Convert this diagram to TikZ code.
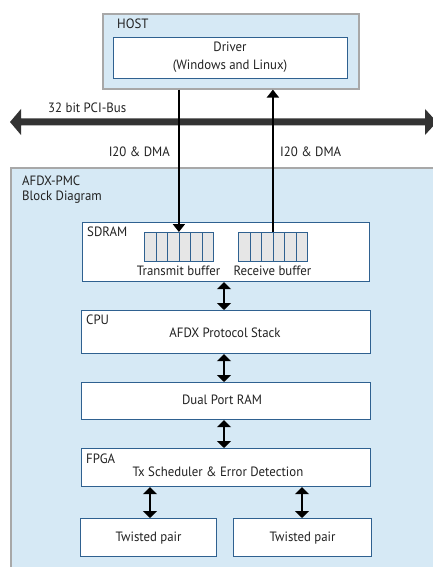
\documentclass[tikz,border=0pt]{standalone}
\usepackage{fontspec}
\setmainfont[FakeStretch=0.95]{PT Sans}
\usetikzlibrary{arrows.meta}
\definecolor{bgblue}{HTML}{D6E9F5}
\definecolor{edgeblue}{HTML}{2F6190}
\definecolor{edgegray}{HTML}{A8A8A8}
\definecolor{cellgray}{HTML}{E6E6E6}
\definecolor{busgray}{HTML}{333333}
\definecolor{txt}{HTML}{222222}
\begin{document}
\begin{tikzpicture}[x=1pt,y=-1pt,
  font=\fontsize{13.5}{15}\selectfont,
  panel/.style={draw=edgegray, line width=1.6pt, fill=bgblue, anchor=north west, inner sep=0},
  blk/.style={draw=edgeblue, line width=1.2pt, fill=white, anchor=north west, inner sep=0},
  cell/.style={draw=edgeblue, line width=0.8pt, fill=cellgray, anchor=north west, inner sep=0, minimum width=11.5pt, minimum height=29pt},
  lbl/.style={anchor=west, inner sep=0, text=txt},
  ctr/.style={inner sep=0, text=txt, align=center},
  link/.style={line width=2.8pt, draw=black},
  tip/.style={-{Triangle[width=12pt,length=8pt]}},
  dbl/.style={link, {Triangle[width=14pt,length=7pt]}-{Triangle[width=14pt,length=7pt]}},
]
\useasboundingbox (0,0) rectangle (432,567);
\fill[white] (0,0) rectangle (432,567);

% panels
\node[panel, minimum width=256pt, minimum height=75pt] (host) at (102,13) {};
\node[panel, minimum width=440pt, minimum height=420pt] (afdx) at (10,167) {};

% host contents
\node[lbl] (hostlbl) at (117,24) {HOST};
\node[blk, minimum width=234pt, minimum height=41pt] (driver) at (113,37) {};
\node[ctr, font=\fontsize{13.5}{18}\selectfont] (drvtxt) at (230,57) {Driver\\(Windows and Linux)};

% bus
\coordinate (busL) at (10,122);
\coordinate (busR) at (437,122);
\fill[busgray] (busL) -- ++(11,-13) -- ++(0,9.5) -- (425,118.5) -- ++(0,-9.5) -- (busR) -- (425,135) -- ++(0,-9.5) -- (21,125.5) -- ++(0,9.5) -- cycle;
\node[lbl] (buslbl) at (48,108) {32 bit PCI-Bus};

% afdx labels
\node[lbl] (afdxlbl) at (22,181) {AFDX-PMC};
\node[lbl] (bdlbl) at (22,197) {Block Diagram};

% SDRAM
\node[blk, minimum width=287pt, minimum height=59pt] (sdram) at (82,222) {};
\node[lbl] (sdramlbl) at (87,232) {SDRAM};
\foreach \i in {0,...,5} {
  \node[cell] (tx\i) at ({144+11.5*\i},232) {};
  \node[cell] (rx\i) at ({238+11.5*\i},232) {};
}
\path (tx0.north west) -- (tx5.north east) coordinate[pos=0.5] (txtop);
\path (rx0.north west) -- (rx5.north east) coordinate[pos=0.5] (rxtop);
\node[ctr] (txlbl) at (178.5,271) {Transmit buffer};
\node[ctr] (rxlbl) at (272.5,271) {Receive buffer};

% CPU
\node[blk, minimum width=289pt, minimum height=43pt] (cpu) at (81,310) {};
\node[lbl] (cpulbl) at (86,320) {CPU};
\node[ctr] (cputxt) at (225,333) {AFDX Protocol Stack};

% DPR
\node[blk, minimum width=289pt, minimum height=37pt] (dpr) at (81,382) {};
\node[ctr] (dprtxt) at (222,400) {Dual Port RAM};

% FPGA
\node[blk, minimum width=289pt, minimum height=38pt] (fpga) at (81,448) {};
\node[lbl] (fpgalbl) at (86,459) {FPGA};
\node[ctr] (fpgatxt) at (218,472) {Tx Scheduler \& Error Detection};

% twisted pair
\node[blk, minimum width=136pt, minimum height=38pt] (tpl) at (80,518) {};
\node[blk, minimum width=138pt, minimum height=38pt] (tpr) at (233,518) {};
\node[ctr] (tpltxt) at (tpl.center) {Twisted pair};
\node[ctr] (tprtxt) at (tpr.center) {Twisted pair};

% host links
\draw[link, tip] (txtop |- host.south) -- (txtop);
\draw[link, tip] (rxtop) -- (rxtop |- host.south);
\node[anchor=east, inner sep=0, text=txt] (iol) at (170,152) {I20 \& DMA};
\node[lbl] (ior) at (280,152) {I20 \& DMA};

% internal links
\draw[dbl] (224,0 |- sdram.south) -- (224,0 |- cpu.north);
\draw[dbl] (224,0 |- cpu.south) -- (224,0 |- dpr.north);
\draw[dbl] (224,0 |- dpr.south) -- (224,0 |- fpga.north);
\draw[dbl] (150,0 |- fpga.south) -- (150,0 |- tpl.north);
\draw[dbl] (302,0 |- fpga.south) -- (302,0 |- tpr.north);
\end{tikzpicture}
\end{document}
